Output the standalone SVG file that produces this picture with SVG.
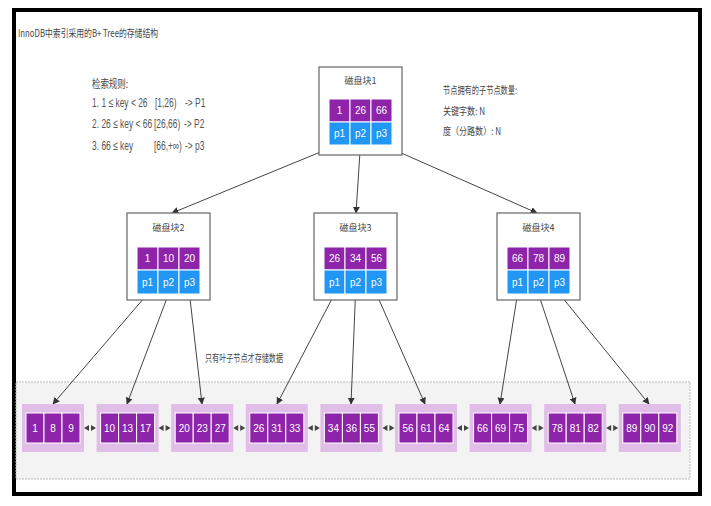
<svg xmlns="http://www.w3.org/2000/svg" width="711" height="506" viewBox="0 0 711 506">
<defs>
<style>
.t{font-family:"Liberation Sans","Noto Sans CJK SC",sans-serif;fill:#555;font-size:13px}
.cj{font-family:"Noto Sans CJK SC","Liberation Sans",sans-serif;fill:#444}
.box{fill:#fff;stroke:#666;stroke-width:1.2}
.pu{fill:#8e24aa;stroke:#fff;stroke-width:1}
.bl{fill:#2196f3;stroke:#fff;stroke-width:1}
.lf{fill:#e1bee7}
.ct{font-family:"Liberation Sans",sans-serif;font-size:10px;fill:#fff;text-anchor:middle}
.ttl{font-family:"Noto Sans CJK SC","Liberation Sans",sans-serif;font-size:9px;fill:#444;text-anchor:middle}
.cn{stroke:#444;stroke-width:1;fill:none;marker-end:url(#ah)}
.da{fill:#444}
</style>
<marker id="ah" viewBox="0 0 10 10" refX="9" refY="5" markerWidth="7" markerHeight="7" orient="auto" markerUnits="userSpaceOnUse">
<path d="M0,0 L10,5 L0,10 z" fill="#333"/>
</marker>
</defs>
<rect x="0" y="0" width="711" height="506" fill="#fff"/>
<rect x="14" y="10" width="686" height="484" fill="#fff" stroke="#000" stroke-width="4"/>

<!-- leaf band -->
<rect x="16" y="382" width="674" height="97" fill="#f3f3f3" stroke="#bbb" stroke-width="1" stroke-dasharray="2,1"/>

<text class="cj" x="18" y="37" font-size="10" fill="#333" textLength="140" lengthAdjust="spacingAndGlyphs">InnoDB中索引采用的B+ Tree的存储结构</text>

<g id="rules">
<text class="cj" x="92" y="88" font-size="11" textLength="36" lengthAdjust="spacingAndGlyphs">检索规则:</text>
<text class="t" transform="matrix(0.65 0 0 1 92 107)"><tspan x="0">1. 1 ≤ key &lt; 26</tspan><tspan x="96.9">[1,26)</tspan><tspan x="143.1">-&gt; P1</tspan></text>
<text class="t" transform="matrix(0.65 0 0 1 92 128)"><tspan x="0">2. 26 ≤ key &lt; 66</tspan><tspan x="95.4">[26,66)</tspan><tspan x="141.5">-&gt; P2</tspan></text>
<text class="t" transform="matrix(0.65 0 0 1 92 150)"><tspan x="0">3. 66 ≤ key</tspan><tspan x="95.4">[66,+∞)</tspan><tspan x="143.1">-&gt; p3</tspan></text>
</g>

<g id="note">
<text class="cj" x="443" y="94" font-size="10" textLength="74" lengthAdjust="spacingAndGlyphs">节点拥有的子节点数量:</text>
<text class="cj" x="443" y="115" font-size="10" textLength="42" lengthAdjust="spacingAndGlyphs">关键字数: N</text>
<text class="cj" x="443" y="135" font-size="10" textLength="58" lengthAdjust="spacingAndGlyphs">度（分路数）: N</text>
</g>

<text id="leaf-note" class="cj" x="205" y="362" font-size="10" textLength="78" lengthAdjust="spacingAndGlyphs">只有叶子节点才存储数据</text>

<!-- connectors -->
<g id="connectors">
<line class="cn" x1="340" y1="144" x2="172" y2="213"/>
<line class="cn" x1="360.5" y1="144" x2="356" y2="213"/>
<line class="cn" x1="381" y1="144" x2="537" y2="213"/>
<line class="cn" x1="147.5" y1="294" x2="53" y2="404"/>
<line class="cn" x1="168.5" y1="294" x2="127" y2="404"/>
<line class="cn" x1="189.5" y1="294" x2="202" y2="404"/>
<line class="cn" x1="334.5" y1="294" x2="277" y2="404"/>
<line class="cn" x1="355.5" y1="294" x2="351" y2="404"/>
<line class="cn" x1="376.5" y1="294" x2="425" y2="404"/>
<line class="cn" x1="517.5" y1="294" x2="500" y2="404"/>
<line class="cn" x1="538.5" y1="294" x2="575" y2="404"/>
<line class="cn" x1="559.5" y1="294" x2="649" y2="404"/>
<g class="da">
<path d="M84,428 l5,-3 v6 z M96,428 l-5,-3 v6 z"/>
<path d="M158.6,428 l5,-3 v6 z M170.6,428 l-5,-3 v6 z"/>
<path d="M233.2,428 l5,-3 v6 z M245.2,428 l-5,-3 v6 z"/>
<path d="M307.8,428 l5,-3 v6 z M319.8,428 l-5,-3 v6 z"/>
<path d="M382.4,428 l5,-3 v6 z M394.4,428 l-5,-3 v6 z"/>
<path d="M457,428 l5,-3 v6 z M469,428 l-5,-3 v6 z"/>
<path d="M531.6,428 l5,-3 v6 z M543.6,428 l-5,-3 v6 z"/>
<path d="M606.2,428 l5,-3 v6 z M618.2,428 l-5,-3 v6 z"/>
</g>
</g>

<!-- root -->
<g id="block1">
<rect class="box" x="319" y="67" width="83" height="88"/>
<text class="ttl" x="360.5" y="84">磁盘块1</text>
<rect class="pu" x="329" y="99" width="21" height="23"/><rect class="pu" x="350" y="99" width="21" height="23"/><rect class="pu" x="371" y="99" width="21" height="23"/>
<rect class="bl" x="329" y="122" width="21" height="23"/><rect class="bl" x="350" y="122" width="21" height="23"/><rect class="bl" x="371" y="122" width="21" height="23"/>
<text class="ct" x="339.5" y="114">1</text><text class="ct" x="360.5" y="114">26</text><text class="ct" x="381.5" y="114">66</text>
<text class="ct" x="339.5" y="137">p1</text><text class="ct" x="360.5" y="137">p2</text><text class="ct" x="381.5" y="137">p3</text>
</g>

<g id="block2">
<rect class="box" x="127" y="213" width="83" height="87"/>
<text class="ttl" x="168.5" y="231">磁盘块2</text>
<rect class="pu" x="137" y="247" width="21" height="23"/><rect class="pu" x="158" y="247" width="21" height="23"/><rect class="pu" x="179" y="247" width="21" height="23"/>
<rect class="bl" x="137" y="270" width="21" height="24"/><rect class="bl" x="158" y="270" width="21" height="24"/><rect class="bl" x="179" y="270" width="21" height="24"/>
<text class="ct" x="147.5" y="262">1</text><text class="ct" x="168.5" y="262">10</text><text class="ct" x="189.5" y="262">20</text>
<text class="ct" x="147.5" y="286">p1</text><text class="ct" x="168.5" y="286">p2</text><text class="ct" x="189.5" y="286">p3</text>
</g>

<g id="block3">
<rect class="box" x="314" y="213" width="83" height="87"/>
<text class="ttl" x="355.5" y="231">磁盘块3</text>
<rect class="pu" x="324" y="247" width="21" height="23"/><rect class="pu" x="345" y="247" width="21" height="23"/><rect class="pu" x="366" y="247" width="21" height="23"/>
<rect class="bl" x="324" y="270" width="21" height="24"/><rect class="bl" x="345" y="270" width="21" height="24"/><rect class="bl" x="366" y="270" width="21" height="24"/>
<text class="ct" x="334.5" y="262">26</text><text class="ct" x="355.5" y="262">34</text><text class="ct" x="376.5" y="262">56</text>
<text class="ct" x="334.5" y="286">p1</text><text class="ct" x="355.5" y="286">p2</text><text class="ct" x="376.5" y="286">p3</text>
</g>

<g id="block4">
<rect class="box" x="497" y="213" width="83" height="87"/>
<text class="ttl" x="538.5" y="231">磁盘块4</text>
<rect class="pu" x="507" y="247" width="21" height="23"/><rect class="pu" x="528" y="247" width="21" height="23"/><rect class="pu" x="549" y="247" width="21" height="23"/>
<rect class="bl" x="507" y="270" width="21" height="24"/><rect class="bl" x="528" y="270" width="21" height="24"/><rect class="bl" x="549" y="270" width="21" height="24"/>
<text class="ct" x="517.5" y="262">66</text><text class="ct" x="538.5" y="262">78</text><text class="ct" x="559.5" y="262">89</text>
<text class="ct" x="517.5" y="286">p1</text><text class="ct" x="538.5" y="286">p2</text><text class="ct" x="559.5" y="286">p3</text>
</g>

<!-- leaves -->
<g id="leaf1"><rect class="lf" x="22" y="404" width="62" height="48"/>
<rect class="pu" x="26" y="413" width="18" height="30"/><rect class="pu" x="44" y="413" width="18" height="30"/><rect class="pu" x="62" y="413" width="18" height="30"/>
<text class="ct" x="35" y="432">1</text><text class="ct" x="53" y="432">8</text><text class="ct" x="71" y="432">9</text></g>
<g id="leaf2"><rect class="lf" x="96.6" y="404" width="62" height="48"/>
<rect class="pu" x="100.6" y="413" width="18" height="30"/><rect class="pu" x="118.6" y="413" width="18" height="30"/><rect class="pu" x="136.6" y="413" width="18" height="30"/>
<text class="ct" x="109.6" y="432">10</text><text class="ct" x="127.6" y="432">13</text><text class="ct" x="145.6" y="432">17</text></g>
<g id="leaf3"><rect class="lf" x="171.2" y="404" width="62" height="48"/>
<rect class="pu" x="175.2" y="413" width="18" height="30"/><rect class="pu" x="193.2" y="413" width="18" height="30"/><rect class="pu" x="211.2" y="413" width="18" height="30"/>
<text class="ct" x="184.2" y="432">20</text><text class="ct" x="202.2" y="432">23</text><text class="ct" x="220.2" y="432">27</text></g>
<g id="leaf4"><rect class="lf" x="245.8" y="404" width="62" height="48"/>
<rect class="pu" x="249.8" y="413" width="18" height="30"/><rect class="pu" x="267.8" y="413" width="18" height="30"/><rect class="pu" x="285.8" y="413" width="18" height="30"/>
<text class="ct" x="258.8" y="432">26</text><text class="ct" x="276.8" y="432">31</text><text class="ct" x="294.8" y="432">33</text></g>
<g id="leaf5"><rect class="lf" x="320.4" y="404" width="62" height="48"/>
<rect class="pu" x="324.4" y="413" width="18" height="30"/><rect class="pu" x="342.4" y="413" width="18" height="30"/><rect class="pu" x="360.4" y="413" width="18" height="30"/>
<text class="ct" x="333.4" y="432">34</text><text class="ct" x="351.4" y="432">36</text><text class="ct" x="369.4" y="432">55</text></g>
<g id="leaf6"><rect class="lf" x="395" y="404" width="62" height="48"/>
<rect class="pu" x="399" y="413" width="18" height="30"/><rect class="pu" x="417" y="413" width="18" height="30"/><rect class="pu" x="435" y="413" width="18" height="30"/>
<text class="ct" x="408" y="432">56</text><text class="ct" x="426" y="432">61</text><text class="ct" x="444" y="432">64</text></g>
<g id="leaf7"><rect class="lf" x="469.6" y="404" width="62" height="48"/>
<rect class="pu" x="473.6" y="413" width="18" height="30"/><rect class="pu" x="491.6" y="413" width="18" height="30"/><rect class="pu" x="509.6" y="413" width="18" height="30"/>
<text class="ct" x="482.6" y="432">66</text><text class="ct" x="500.6" y="432">69</text><text class="ct" x="518.6" y="432">75</text></g>
<g id="leaf8"><rect class="lf" x="544.2" y="404" width="62" height="48"/>
<rect class="pu" x="548.2" y="413" width="18" height="30"/><rect class="pu" x="566.2" y="413" width="18" height="30"/><rect class="pu" x="584.2" y="413" width="18" height="30"/>
<text class="ct" x="557.2" y="432">78</text><text class="ct" x="575.2" y="432">81</text><text class="ct" x="593.2" y="432">82</text></g>
<g id="leaf9"><rect class="lf" x="618.8" y="404" width="62" height="48"/>
<rect class="pu" x="622.8" y="413" width="18" height="30"/><rect class="pu" x="640.8" y="413" width="18" height="30"/><rect class="pu" x="658.8" y="413" width="18" height="30"/>
<text class="ct" x="631.8" y="432">89</text><text class="ct" x="649.8" y="432">90</text><text class="ct" x="667.8" y="432">92</text></g>
</svg>
